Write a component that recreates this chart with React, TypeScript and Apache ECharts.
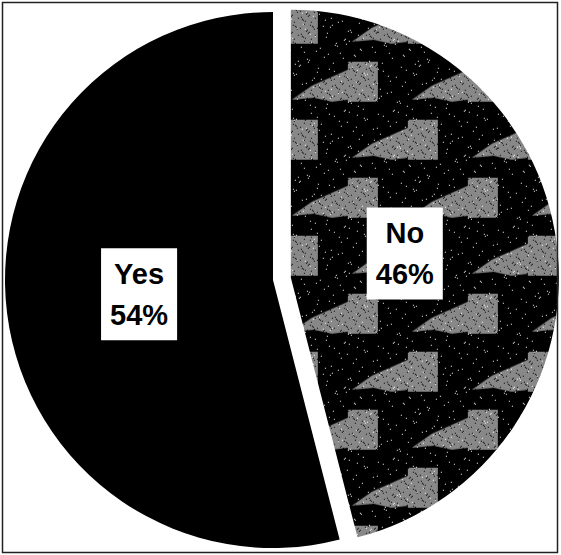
import React, { useEffect, useRef } from "react";
import * as echarts from "echarts";

const categories = ["No", "Yes"];
const values = [46, 54];
const labelShifts = [
  [-22, -7],
  [2, -3],
];

function makeTexture(): HTMLCanvasElement {
  const w = 120;
  const h = 116;
  const c = document.createElement("canvas");
  c.width = w;
  c.height = h;
  const ctx = c.getContext("2d")!;
  ctx.fillStyle = "#000";
  ctx.fillRect(0, 0, w, h);
  const shapes = [
    [[0, 6], [0, 46], [-30, 46], [-30, 6]],
    [[-30, 14], [-48, 22], [-66, 30], [-86, 44], [-64, 42], [-46, 46], [-30, 44]],
  ];
  const anchors = [
    [60, 0],
    [120, 58],
  ];
  ctx.fillStyle = "#888888";
  for (const [ax, ay] of anchors) {
    for (const dx of [-w, 0, w]) {
      for (const dy of [-h, 0, h]) {
        for (const shape of shapes) {
          ctx.beginPath();
          shape.forEach(([px, py], i) => {
            const X = ax + px + dx;
            const Y = ay + py + dy;
            if (i) ctx.lineTo(X, Y);
            else ctx.moveTo(X, Y);
          });
          ctx.closePath();
          ctx.fill();
        }
      }
    }
  }
  ctx.fillStyle = "#000";
  for (let y = 0; y < h; y++) {
    for (let x = 0; x < w; x++) {
      if ((x * 29 + y * 53 + x * y * 7) % 17 === 0) ctx.fillRect(x, y, 1, 1);
    }
  }
  ctx.fillStyle = "#fff";
  for (let y = 0; y < h; y++) {
    for (let x = 0; x < w; x++) {
      if ((x * 37 + y * 91 + x * y * 13) % 71 === 0) ctx.fillRect(x, y, 1, 1);
    }
  }
  return c;
}

export default function App() {
  const ref = useRef<HTMLDivElement>(null);
  useEffect(() => {
    if (!ref.current) return;
    const chart = echarts.init(ref.current, null, { renderer: "svg" });
    const tex = makeTexture();
    const fills: any[] = [
      { image: tex, repeat: "repeat", imageWidth: tex.width, imageHeight: tex.height },
      "#000000",
    ];
    chart.setOption({
      animation: false,
      backgroundColor: "#ffffff",
      graphic: [
        {
          type: "rect",
          shape: { x: 2.5, y: 2.5, width: 555, height: 550 },
          style: { fill: "none", stroke: "#222", lineWidth: 1.5 },
          z: 100,
        },
      ],
      series: [
        {
          type: "pie",
          center: [273, 280],
          radius: 268,
          startAngle: 90,
          clockwise: true,
          selectedMode: "single",
          selectedOffset: 18,
          silent: true,
          emphasis: { disabled: true },
          itemStyle: { borderWidth: 0 },
          label: {
            show: true,
            position: "inside",
            formatter: "{b}\n{d}%",
            color: "#000",
            backgroundColor: "#fff",
            fontFamily: "Liberation Sans, Arial, sans-serif",
            fontWeight: "bold",
            fontSize: 29,
            lineHeight: 41,
            padding: [5, 9],
            align: "center",
          },
          labelLine: { show: false },
          labelLayout: (p: any) => ({ dx: labelShifts[p.dataIndex][0], dy: labelShifts[p.dataIndex][1] }),
          data: categories.map((name, i) => ({
            name,
            value: values[i],
            selected: i === 0,
            itemStyle: { color: fills[i] },
          })),
        },
      ],
    });
    return () => chart.dispose();
  }, []);
  return (
    <div
      ref={ref}
      style={{ position: "fixed", left: 0, top: 0, width: 561, height: 555 }}
    />
  );
}
